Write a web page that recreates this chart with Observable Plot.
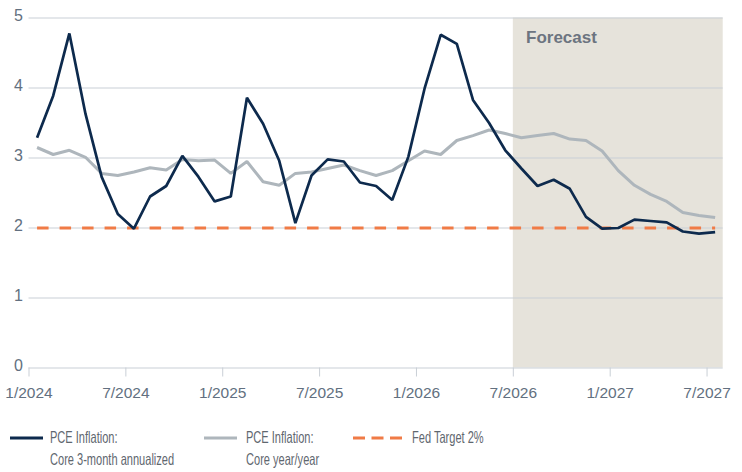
<!DOCTYPE html>
<html>
<head>
<meta charset="utf-8">
<script src="https://cdn.jsdelivr.net/npm/d3@7"></script>
<script src="https://cdn.jsdelivr.net/npm/@observablehq/plot@0.6"></script>
<style>
  body { margin: 0; background: #fff; }
  #chart { position: relative; width: 742px; height: 472px; overflow: hidden; }
  #chart svg { display: block; }
  .legend-item { position: absolute; top: 425.7px; }
  .legend-item svg { position: absolute; top: 9.6px; }
  .legend-text {
    position: absolute; top: 0; white-space: nowrap;
    font-family: "Liberation Sans", Arial, sans-serif;
    font-size: 16.5px; line-height: 22.3px; color: #5f676f;
    transform: scaleX(0.67); transform-origin: left top;
  }
</style>
</head>
<body>
<div id="chart"></div>
<script>
// Monthly PCE inflation, January 2024 through July 2027 (percent)
const startYear = 2024;
const core3mAnnualized = [
  3.29, 3.89, 4.78, 3.63, 2.73, 2.20, 1.99, 2.45, 2.60, 3.03, 2.73, 2.38,
  2.45, 3.86, 3.49, 2.96, 2.07, 2.75, 2.98, 2.95, 2.65, 2.60, 2.40, 3.02,
  3.99, 4.76, 4.63, 3.83, 3.50, 3.11, 2.85, 2.60, 2.69, 2.56, 2.16, 1.99,
  2.00, 2.12, 2.10, 2.08, 1.95, 1.92, 1.94
];
const coreYearOverYear = [
  3.15, 3.05, 3.11, 3.01, 2.78, 2.75, 2.80, 2.86, 2.83, 2.98, 2.96, 2.97,
  2.78, 2.95, 2.66, 2.61, 2.78, 2.80, 2.85, 2.90, 2.82, 2.75, 2.82, 2.96,
  3.10, 3.05, 3.25, 3.32, 3.40, 3.35, 3.29, 3.32, 3.35, 3.27, 3.25, 3.10,
  2.82, 2.61, 2.48, 2.38, 2.22, 2.18, 2.15
];
const fedTarget = 2;
const xTickLabels = ["1/2024", "7/2024", "1/2025", "7/2025", "1/2026", "7/2026", "1/2027", "7/2027"];
const yTicks = [0, 1, 2, 3, 4, 5];
const forecastStart = "7/2026";
const forecastLabel = "Forecast";
const seriesNames = [
  ["PCE Inflation:", "Core 3-month annualized"],
  ["PCE Inflation:", "Core year/year"],
  ["Fed Target 2%"]
];

const NAVY = "#0d2a4d", GRAY = "#aeb6bc", ORANGE = "#f07b46";
const GRID = "#c9cfd6", SHADE = "#e6e3db", LABEL = "#627080";

// "m/yyyy" -> months since the first month of the series
const monthIndex = s => {
  const [m, y] = s.split("/").map(Number);
  return (y - startYear) * 12 + (m - 1);
};

const n = core3mAnnualized.length;
// each month is drawn at the middle of its slot
const rows = d3.range(n).map(i => ({
  x: i + 0.5,
  core3m: core3mAnnualized[i],
  yoy: coreYearOverYear[i],
  target: fedTarget
}));
const tickPos = xTickLabels.map(monthIndex);
const labelAt = new Map(xTickLabels.map(l => [monthIndex(l), l]));
const forecast = [{x1: monthIndex(forecastStart), x2: n, y1: yTicks[0], y2: yTicks[yTicks.length - 1], label: forecastLabel}];

const chart = Plot.plot({
  width: 742,
  height: 410,
  marginLeft: 28.5,
  marginRight: 19.3,
  marginTop: 17.5,
  marginBottom: 42.5,
  style: {fontFamily: "'Liberation Sans', Arial, sans-serif", background: "#fff"},
  x: {type: "linear", domain: [0, n]},
  y: {domain: [yTicks[0], yTicks[yTicks.length - 1]]},
  marks: [
    Plot.rect(forecast, {x1: "x1", x2: "x2", y1: "y1", y2: "y2", fill: SHADE}),
    Plot.gridY(yTicks, {stroke: GRID, strokeOpacity: 1, strokeWidth: 1}),
    Plot.axisY({ticks: yTicks, tickFormat: d => String(d), tickSize: 0, tickPadding: 6,
      fontSize: 16, fill: LABEL, dy: -2}),
    Plot.axisX({ticks: tickPos, tickFormat: d => labelAt.get(d), tickSize: 9, tickPadding: 10,
      fontSize: 15.5, stroke: GRID, fill: LABEL}),
    Plot.text(forecast, {x: "x1", y: "y2", text: "label", textAnchor: "start", lineAnchor: "top",
      dx: 12.7, dy: 12.5, fontSize: 17, fontWeight: "bold", fill: "#6c7480",
      fontFamily: "'Liberation Sans', Arial, sans-serif",
      style: {letterSpacing: "-0.6px"}}),
    Plot.line(rows, {x: "x", y: "yoy", stroke: GRAY, strokeWidth: 3,
      strokeLinejoin: "miter", strokeLinecap: "butt"}),
    Plot.line(rows, {x: "x", y: "target", stroke: ORANGE, strokeWidth: 3,
      strokeDasharray: "11.5,11", strokeLinecap: "butt"}),
    Plot.line(rows, {x: "x", y: "core3m", stroke: NAVY, strokeWidth: 2.7,
      strokeLinejoin: "miter", strokeLinecap: "butt"})
  ]
});

const root = document.getElementById("chart");
root.appendChild(chart);

// legend below the plot
const legendLayout = [
  {left: 10, swatch: 33, textLeft: 40, color: NAVY, width: 3, dash: null},
  {left: 204, swatch: 33, textLeft: 42, color: GRAY, width: 3.2, dash: null},
  {left: 353, swatch: 50, textLeft: 58.7, color: ORANGE, width: 3, dash: "12,6.5"}
];
seriesNames.forEach((lines, i) => {
  const L = legendLayout[i];
  const item = document.createElement("div");
  item.className = "legend-item";
  item.style.left = L.left + "px";
  const svg = d3.create("svg").attr("width", L.swatch).attr("height", 6);
  svg.append("line").attr("x1", 0).attr("x2", L.swatch).attr("y1", 3).attr("y2", 3)
    .attr("stroke", L.color).attr("stroke-width", L.width)
    .attr("stroke-dasharray", L.dash);
  item.appendChild(svg.node());
  const txt = document.createElement("div");
  txt.className = "legend-text";
  txt.style.left = L.textLeft + "px";
  lines.forEach(t => {
    const line = document.createElement("div");
    line.textContent = t;
    txt.appendChild(line);
  });
  item.appendChild(txt);
  root.appendChild(item);
});
</script>
</body>
</html>
